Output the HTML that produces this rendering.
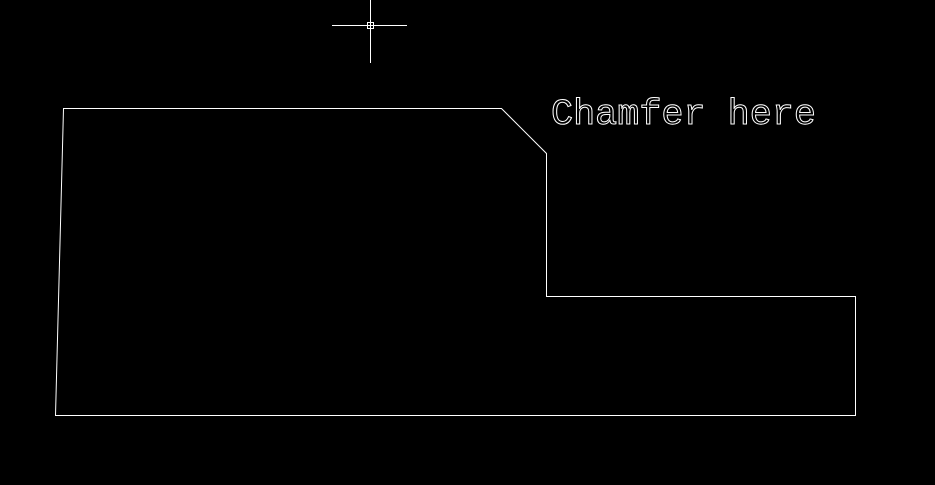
<!DOCTYPE html>
<html><head><style>html,body{margin:0;padding:0;background:#000;}svg{display:block}</style></head>
<body>
<svg width="935" height="485" viewBox="0 0 935 485" xmlns="http://www.w3.org/2000/svg">
<rect width="935" height="485" fill="#000"/>
<g stroke="#fff" stroke-width="1" fill="none" shape-rendering="crispEdges">
<path d="M63.5 108.5 L501.5 108.5 L546.5 153.5 L546.5 296.5 L855.5 296.5 L855.5 415.5 L55.5 415.5 Z" shape-rendering="auto"/>
<line x1="332" y1="25.5" x2="407" y2="25.5"/>
<line x1="370.5" y1="0" x2="370.5" y2="63"/>
<rect x="367.5" y="22.5" width="6" height="6"/>
</g>
<text x="551" y="124" font-family="Liberation Mono, monospace" font-size="36.5" fill="none" stroke="#fff" stroke-width="1" textLength="265" lengthAdjust="spacingAndGlyphs">Chamfer here</text>
</svg>
</body></html>
